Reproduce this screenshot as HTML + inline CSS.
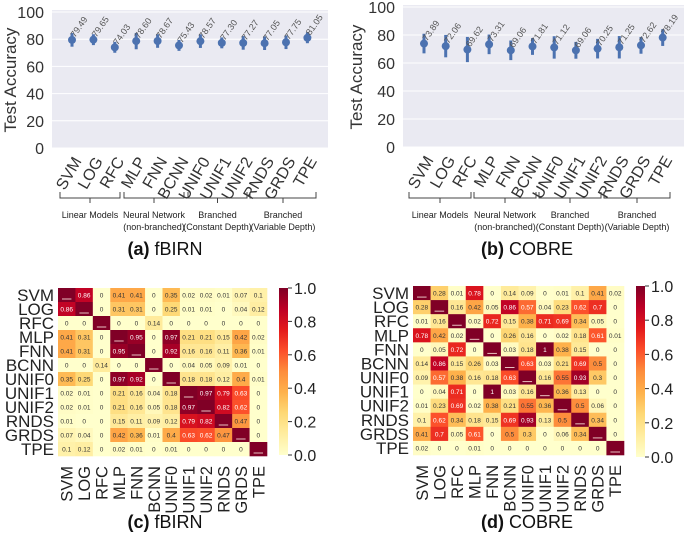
<!DOCTYPE html>
<html><head><meta charset="utf-8">
<style>
body{margin:0;background:#fff;}
svg{display:block;font-family:"Liberation Sans",sans-serif;}
</style></head>
<body>
<svg id="fig" width="685" height="542" viewBox="0 0 685 542" xmlns="http://www.w3.org/2000/svg"></svg>
<script>
const models=["SVM","LOG","RFC","MLP","FNN","BCNN","UNIF0","UNIF1","UNIF2","RNDS","GRDS","TPE"];
const accA=[79.49,79.65,74.03,78.60,78.67,75.43,78.57,77.30,77.27,77.05,77.75,81.05];
const errA=[5,4,4,6,5,4,5,4,5,5,5,4];
const accB=[73.89,72.06,69.62,73.31,69.06,71.81,71.12,69.06,70.25,71.25,72.62,78.19];
const errB=[7,8,9,7,7,6,8,6,7,8,6,6];
const yTicks=[0,20,40,60,80,100];
const cbTicks=[0.0,0.2,0.4,0.6,0.8,1.0];
const matC=[
[1,0.86,0,0.41,0.41,0,0.35,0.02,0.02,0.01,0.07,0.1],
[0.86,1,0,0.31,0.31,0,0.25,0.01,0.01,0,0.04,0.12],
[0,0,1,0,0,0.14,0,0,0,0,0,0],
[0.41,0.31,0,1,0.95,0,0.97,0.21,0.21,0.15,0.42,0.02],
[0.41,0.31,0,0.95,1,0,0.92,0.16,0.16,0.11,0.36,0.01],
[0,0,0.14,0,0,1,0,0.04,0.05,0.09,0.01,0],
[0.35,0.25,0,0.97,0.92,0,1,0.18,0.18,0.12,0.4,0.01],
[0.02,0.01,0,0.21,0.16,0.04,0.18,1,0.97,0.79,0.63,0],
[0.02,0.01,0,0.21,0.16,0.05,0.18,0.97,1,0.82,0.62,0],
[0.01,0,0,0.15,0.11,0.09,0.12,0.79,0.82,1,0.47,0],
[0.07,0.04,0,0.42,0.36,0.01,0.4,0.63,0.62,0.47,1,0],
[0.1,0.12,0,0.02,0.01,0,0.01,0,0,0,0,1]];
const matD=[
[1,0.28,0.01,0.78,0,0.14,0.09,0,0.01,0.1,0.41,0.02],
[0.28,1,0.16,0.42,0.05,0.86,0.57,0.04,0.23,0.62,0.7,0],
[0.01,0.16,1,0.02,0.72,0.15,0.38,0.71,0.69,0.34,0.05,0],
[0.78,0.42,0.02,1,0,0.26,0.16,0,0.02,0.18,0.61,0.01],
[0,0.05,0.72,0,1,0.03,0.18,1,0.38,0.15,0,0],
[0.14,0.86,0.15,0.26,0.03,1,0.63,0.03,0.21,0.69,0.5,0],
[0.09,0.57,0.38,0.16,0.18,0.63,1,0.16,0.55,0.93,0.3,0],
[0,0.04,0.71,0,1,0.03,0.16,1,0.36,0.13,0,0],
[0.01,0.23,0.69,0.02,0.38,0.21,0.55,0.36,1,0.5,0.06,0],
[0.1,0.62,0.34,0.18,0.15,0.69,0.93,0.13,0.5,1,0.34,0],
[0.41,0.7,0.05,0.61,0,0.5,0.3,0,0.06,0.34,1,0],
[0.02,0,0,0.01,0,0,0,0,0,0,0,1]];
const groups=[["Linear Models",""],["Neural Network","(non-branched)"],["Branched","(Constant Depth)"],["Branched","(Variable Depth)"]];

const svg=document.getElementById('fig');
const NS="http://www.w3.org/2000/svg";
function el(tag,attrs,parent,txt){const e=document.createElementNS(NS,tag);for(const k in attrs)e.setAttribute(k,attrs[k]);if(txt!==undefined)e.textContent=txt;(parent||svg).appendChild(e);return e;}

const stops=["#ffffcc","#ffeda0","#fed976","#feb24c","#fd8d3c","#fc4e2a","#e31a1c","#bd0026","#800026"];
function hex(c){return [1,3,5].map(i=>parseInt(c.substr(i,2),16));}
function cmap(v){v=Math.max(0,Math.min(1,v));const p=v*8,i=Math.min(7,Math.floor(p)),f=p-i;const a=hex(stops[i]),b=hex(stops[i+1]);return "rgb("+a.map((x,j)=>Math.round(x+(b[j]-x)*f)).join(",")+")";}

function accPanel(o){
  const g=el('g',{});
  
  
  const y=v=>o.y0-(o.y0-o.y100)*v/100;
  const x=i=>o.xs+i*o.dx;
  el('rect',{x:o.px0,y:o.y100-2,width:o.px1-o.px0,height:o.y0-o.y100+2,fill:"#eaeaf2"},g);
  yTicks.forEach(t=>{
    el('line',{x1:o.px0,x2:o.px1,y1:y(t),y2:y(t),stroke:"#fff","stroke-width":1},g);
    const tl=el('text',{x:o.px0-8,y:y(t)+6,"text-anchor":"end","font-size":16,fill:"#333"},g,String(t));
    
    
  });
  models.forEach((m,i)=>{
    const xv=x(i);
    el('line',{x1:xv,x2:xv,y1:y(o.acc[i]-o.err[i]),y2:y(o.acc[i]+o.err[i]),stroke:"#4c72b0","stroke-width":3},g);
    const c=el('circle',{cx:xv,cy:y(o.acc[i]),r:4,fill:"#4c72b0"},g);
    
    
    el('text',{x:xv+3,y:y(o.acc[i])-2,"font-size":9,fill:"#555",transform:`rotate(-55 ${xv+3} ${y(o.acc[i])-2})`},g,o.acc[i].toFixed(2));
    const lx=xv+10,ly=o.y0+13;
    const t=el('text',{x:lx,y:ly,"text-anchor":"end","font-size":16,fill:"#333",transform:`rotate(-60 ${lx} ${ly})`},g,m);
    
    
  });
  const yl=el('text',{x:o.ylx,y:(o.y0+o.y100)/2,"text-anchor":"middle","font-size":17,fill:"#333",transform:`rotate(-90 ${o.ylx} ${(o.y0+o.y100)/2})`},g,"Test Accuracy");
  
  
  o.br.forEach((b,k)=>{
    const mid=(b[0]+b[1])/2;
    el('path',{d:`M${b[0]},192 L${b[0]},198 L${mid},198 L${mid},203 M${mid},198 L${b[1]},198 L${b[1]},192`,stroke:"#444",fill:"none","stroke-width":1},g);
    el('text',{x:mid,y:218,"text-anchor":"middle","font-size":9,fill:"#222"},g,groups[k][0]);
    if(groups[k][1])el('text',{x:mid,y:230,"text-anchor":"middle","font-size":9,fill:"#222"},g,groups[k][1]);
  });
  const cap=el('text',{x:o.capx,y:255,"text-anchor":"middle","font-size":18,fill:"#111"},g);
  
  
  el('tspan',{"font-weight":"bold"},cap,o.cap[0]);
  el('tspan',{},cap," "+o.cap[1]);
}

function heatPanel(o){
  const g=el('g',{});
  
  
  const n=models.length;
  const cw=(o.x1-o.x0)/n, ch=(o.y1-o.y0)/n;
  o.mat.forEach((row,r)=>{
    row.forEach((v,c)=>{
      const cx=o.x0+c*cw, cy=o.y0+r*ch;
      const rc=el('rect',{x:cx,y:cy,width:cw+0.3,height:ch+0.3,fill:cmap(v)},g);
      
      
      if(r===c){
        el('line',{x1:cx+4,x2:cx+cw-4,y1:cy+ch-3,y2:cy+ch-3,stroke:"#e8c0c0","stroke-width":1},g);
      } else {
        el('text',{x:cx+cw/2,y:cy+ch/2+2.5,"text-anchor":"middle","font-size":6.5,fill:v>0.55?"#fff":"#333"},g,String(v));
      }
    });
  });
  models.forEach((m,i)=>{
    const t=el('text',{x:o.x0-4,y:o.y0+i*ch+ch/2+6,"text-anchor":"end","font-size":17,fill:"#222"},g,m);
    
    
    const lx=o.x0+i*cw+cw/2+6, ly=o.y1+10;
    const b=el('text',{x:lx,y:ly,"text-anchor":"end","font-size":16.5,fill:"#222",transform:`rotate(-90 ${lx} ${ly})`},g,m);
    
    
  });
  const gid='cb'+o.name;
  const defs=el('defs',{},g);
  const lg=el('linearGradient',{id:gid,x1:0,y1:1,x2:0,y2:0},defs);
  stops.forEach((s,i)=>el('stop',{offset:(i/8),"stop-color":s},lg));
  const cb=el('rect',{x:o.cbx,y:o.cby0,width:9,height:o.cby1-o.cby0,fill:`url(#${gid})`},g);
  
  
  cbTicks.forEach(t=>{
    const yy=o.cby1-(o.cby1-o.cby0)*t;
    el('line',{x1:o.cbx+9,x2:o.cbx+13,y1:yy,y2:yy,stroke:"#333"},g);
    el('text',{x:o.cbx+15,y:yy+6,"font-size":16,fill:"#222"},g,t.toFixed(1));
  });
  const cap=el('text',{x:o.capx,y:528,"text-anchor":"middle","font-size":18,fill:"#111"},g);
  
  
  el('tspan',{"font-weight":"bold"},cap,o.cap[0]);
  el('tspan',{},cap," "+o.cap[1]);
}

accPanel({name:"accuracy-fbirn",acc:accA,err:errA,px0:52,px1:328,y0:148,y100:12,xs:72,dx:21.4,ylx:16,
  br:[[60,120],[124,184],[188,247],[250,316]],capx:165,cap:["(a)","fBIRN"]});
accPanel({name:"accuracy-cobre",acc:accB,err:errB,px0:403,px1:684,y0:147,y100:7,xs:424,dx:21.7,ylx:362,
  br:[[409,471],[474,536],[539,601],[604,670]],capx:527,cap:["(b)","COBRE"]});
heatPanel({name:"heatmap-fbirn",mat:matC,x0:58,x1:267,y0:288,y1:456,cbx:279,cby0:288,cby1:455,capx:165,cap:["(c)","fBIRN"]});
heatPanel({name:"heatmap-cobre",mat:matD,x0:413,x1:624,y0:286,y1:455,cbx:636,cby0:286,cby1:457,capx:527,cap:["(d)","COBRE"]});
</script>
</body></html>
